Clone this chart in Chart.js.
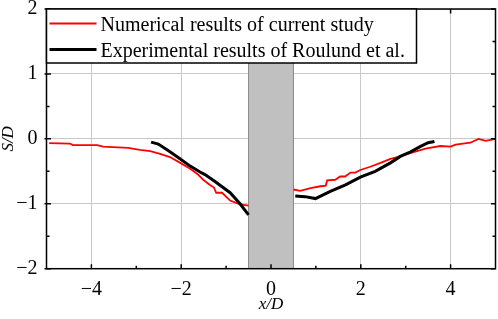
<!DOCTYPE html>
<html>
<head>
<meta charset="utf-8">
<script src="https://cdn.jsdelivr.net/npm/chart.js@4/dist/chart.umd.min.js"></script>
<style>
  html, body { margin: 0; padding: 0; background: #fff; }
  #wrap { width: 498px; height: 319px; }
</style>
</head>
<body>
<div id="wrap"><canvas id="myChart" width="498" height="319"></canvas></div>
<script>
// numerical results (gap at the pile)
var numX = [-4.94, -4.48, -4.41, -3.87, -3.74, -3.18, -2.92, -2.69, -2.47, -2.25, -2.02, -1.80, -1.64, -1.51, -1.36, -1.27, -1.22, -1.09, -0.91, -0.69, -0.50,
            0,
            0.50, 0.65, 0.88, 1.10, 1.22, 1.25, 1.43, 1.54, 1.65, 1.77, 1.88, 1.99, 2.21, 2.44, 2.66, 2.77, 3.10, 3.44, 3.77, 4.00, 4.11, 4.44, 4.62, 4.78, 5.00];
var numY = [-0.066, -0.072, -0.097, -0.097, -0.12, -0.14, -0.17, -0.19, -0.23, -0.28, -0.37, -0.46, -0.54, -0.63, -0.71, -0.75, -0.83, -0.83, -0.95, -1.01, -1.03,
            null,
            -0.78, -0.80, -0.76, -0.73, -0.72, -0.64, -0.63, -0.58, -0.58, -0.52, -0.52, -0.48, -0.43, -0.37, -0.31, -0.29, -0.22, -0.15, -0.11, -0.12, -0.09, -0.06, 0.0, -0.03, 0.0];

// experimental results of Roulund et al.
var expX = [-2.67, -2.51, -2.25, -2.02, -1.80, -1.58, -1.47, -1.24, -0.91, -0.69, -0.50,
            0,
            0.54, 0.76, 0.99, 1.32, 1.66, 1.99, 2.32, 2.66, 2.88, 3.11, 3.32, 3.50, 3.64];
var expY = [-0.05, -0.08, -0.20, -0.31, -0.42, -0.51, -0.55, -0.66, -0.83, -1.00, -1.17,
            null,
            -0.88, -0.89, -0.92, -0.81, -0.71, -0.59, -0.50, -0.37, -0.27, -0.20, -0.12, -0.06, -0.04];

var seriesNames = ['Numerical results of current study', 'Experimental results of Roulund et al.'];
var pileX = [-0.5, 0.5];
var xMajor = [-4, -2, 0, 2, 4];
var xMinor = [-3, -1, 1, 3];
var yMajor = [-2, -1, 0, 1, 2];
var yMinor = [-1.5, -0.5, 0.5, 1.5];

function pts(xs, ys) {
    var out = [];
    for (var i = 0; i < xs.length; i++) out.push({x: xs[i], y: ys[i]});
    return out;
}
function minus(v) { return String(v).replace('-', '\u2212'); }

var serif = 'Liberation Serif, Times New Roman, serif';

var framePlugin = {
    id: 'frame',
    beforeDatasetsDraw: function(chart) {
        var c = chart.ctx, xs = chart.scales.x;
        var l = xs.getPixelForValue(pileX[0]), r = xs.getPixelForValue(pileX[1]);
        c.save();
        c.fillStyle = '#c0c0c0';
        c.fillRect(l, chart.chartArea.top, r - l, chart.chartArea.bottom - chart.chartArea.top);
        c.strokeStyle = '#8a8a8a';
        c.lineWidth = 1;
        c.beginPath();
        c.moveTo(l, chart.chartArea.top); c.lineTo(l, chart.chartArea.bottom);
        c.moveTo(r, chart.chartArea.top); c.lineTo(r, chart.chartArea.bottom);
        c.stroke();
        c.restore();
    },
    afterDraw: function(chart) {
        var c = chart.ctx, a = chart.chartArea, xs = chart.scales.x, ys = chart.scales.y;
        c.save();
        // box
        c.strokeStyle = '#000';
        c.lineWidth = 1.5;
        c.strokeRect(a.left, a.top, a.right - a.left, a.bottom - a.top);
        // inward ticks
        c.beginPath();
        xMajor.forEach(function(v) {
            var p = xs.getPixelForValue(v);
            c.moveTo(p, a.bottom); c.lineTo(p, a.bottom - 4.5);
            c.moveTo(p, a.top); c.lineTo(p, a.top + 4.5);
        });
        xMinor.forEach(function(v) {
            var p = xs.getPixelForValue(v);
            c.moveTo(p, a.bottom); c.lineTo(p, a.bottom - 3);
            c.moveTo(p, a.top); c.lineTo(p, a.top + 3);
        });
        yMajor.forEach(function(v) {
            var p = ys.getPixelForValue(v);
            c.moveTo(a.left - 2, p); c.lineTo(a.left + 4.5, p);
            c.moveTo(a.right, p); c.lineTo(a.right - 4.5, p);
        });
        yMinor.forEach(function(v) {
            var p = ys.getPixelForValue(v);
            c.moveTo(a.left, p); c.lineTo(a.left + 3, p);
            c.moveTo(a.right, p); c.lineTo(a.right - 3, p);
        });
        c.stroke();
        // legend
        var lx = a.left, ly = a.top, lw = 370, lh = 54;
        c.fillStyle = '#fff';
        c.fillRect(lx, ly, lw, lh);
        c.lineWidth = 1.5;
        c.strokeStyle = '#000';
        c.strokeRect(lx, ly, lw, lh);
        var rows = [{name: seriesNames[0], color: '#ff0000', w: 1.8, y: ly + 14.5},
                    {name: seriesNames[1], color: '#000000', w: 3, y: ly + 40.5}];
        c.font = '20px ' + serif;
        c.textBaseline = 'middle';
        rows.forEach(function(r) {
            c.strokeStyle = r.color;
            c.lineWidth = r.w;
            c.beginPath();
            c.moveTo(lx + 3, r.y); c.lineTo(lx + 50, r.y);
            c.stroke();
            c.fillStyle = '#000';
            c.fillText(r.name, lx + 54, r.y + 2.5);
        });
        c.restore();
    }
};

var ctx = document.getElementById('myChart');
var myChart = new Chart(ctx, {
    type: 'scatter',
    data: {
        datasets: [{
            label: seriesNames[0],
            data: pts(numX, numY),
            showLine: true,
            borderColor: '#ff0000',
            borderWidth: 1.8,
            pointRadius: 0,
            tension: 0,
            spanGaps: false,
            order: 1
        }, {
            label: seriesNames[1],
            data: pts(expX, expY),
            showLine: true,
            borderColor: '#000000',
            borderWidth: 3,
            pointRadius: 0,
            tension: 0,
            spanGaps: false,
            order: 0
        }]
    },
    options: {
        responsive: false,
        animation: false,
        layout: { padding: { top: 9, right: 2.5, left: 0, bottom: 0 } },
        plugins: { legend: { display: false }, tooltip: { enabled: false } },
        scales: {
            x: {
                type: 'linear',
                min: -5, max: 5,
                afterBuildTicks: function(s) { s.ticks = xMajor.map(function(v) { return {value: v}; }); },
                afterFit: function(s) { s.height = 50.3; s.paddingLeft = 0; s.paddingRight = 0; },
                grid: { color: '#c8c8c8', lineWidth: 1, drawTicks: false },
                border: { display: false },
                ticks: { color: '#000', padding: 9, font: { family: serif, size: 20 }, callback: function(v) { return minus(v); } },
                title: { display: true, text: 'x/D', color: '#000', padding: { top: 0, bottom: 6 },
                         font: { family: serif, size: 17, style: 'italic', lineHeight: 1 } }
            },
            y: {
                type: 'linear',
                min: -2, max: 2,
                afterBuildTicks: function(s) { s.ticks = yMajor.map(function(v) { return {value: v}; }); },
                afterFit: function(s) { s.width = 46.5; s.paddingTop = 0; s.paddingBottom = 0; },
                grid: { color: '#c8c8c8', lineWidth: 1, drawTicks: false },
                border: { display: false },
                ticks: { color: '#000', padding: 9, font: { family: serif, size: 20 }, callback: function(v) { return minus(v); } },
                title: { display: true, text: 'S/D', color: '#000', padding: { top: 0, bottom: 0 },
                         font: { family: serif, size: 17, style: 'italic', lineHeight: 1 } }
            }
        }
    },
    plugins: [framePlugin]
});
</script>
</body>
</html>
